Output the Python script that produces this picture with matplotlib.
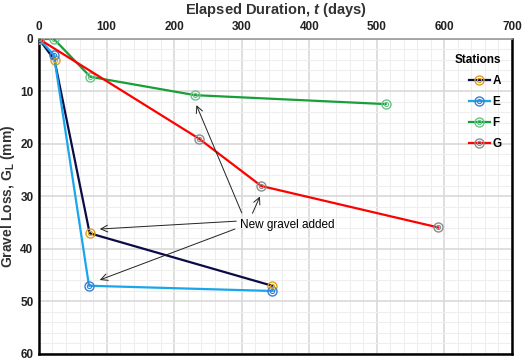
import numpy as np
import matplotlib
matplotlib.use("Agg")
import matplotlib.pyplot as plt
from matplotlib.ticker import MultipleLocator
from matplotlib.legend_handler import HandlerTuple

plt.rcParams['font.family'] = ['Liberation Sans', 'DejaVu Sans']
plt.rcParams['mathtext.fontset'] = 'custom'
plt.rcParams['mathtext.rm'] = 'Liberation Sans'
plt.rcParams['mathtext.bf'] = 'Liberation Sans:bold'
plt.rcParams['mathtext.it'] = 'Liberation Sans:italic'
plt.rcParams['mathtext.bfit'] = 'Liberation Sans:bold:italic'

# elapsed days / gravel loss (mm) per station
days_a = [0, 23, 75, 345]
loss_a = [0, 4.0, 37.0, 47.0]
days_e = [0, 22, 74, 345]
loss_e = [0, 3.0, 47.0, 48.0]
days_f = [0, 22, 76, 231, 513]
loss_f = [0, 0.0, 7.2, 10.7, 12.4]
days_g = [0, 237, 329, 591]
loss_g = [0, 19.0, 28.0, 35.9]

stations = ['A', 'E', 'F', 'G']
line_cols = ['#0b0b45', '#1aa6ea', '#1a9e38', '#ff0000']
mark_cols = ['#dba11c', '#3b7fd4', '#6cc48a', '#8c8c8c']

# arrow text position and targets (days, mm)
note_xy = (367, 35.4)
arrow_from = [(300, 33.1), (316, 33.2), (292, 34.7), (290, 36.2)]
arrow_to = [(233, 12.6), (327, 30.0), (90, 36.2), (90, 45.9)]

fig = plt.figure(figsize=(5.26, 3.6), dpi=100)
ax = fig.add_axes([0.0741, 0.0167, 0.8992, 0.875])

handles = []
series = [(days_a, loss_a), (days_e, loss_e), (days_f, loss_f), (days_g, loss_g)]
for (x, y), name, lc, mc in zip(series, stations, line_cols, mark_cols):
    l1, = ax.plot(x, y, color=lc, lw=1.6, marker='o', ms=6.5, mfc='none', mec=mc,
                  mew=1.0, zorder=3)
    l2, = ax.plot(x, y, ls='none', marker='o', ms=3, mfc='none', mec=mc, mew=0.8, zorder=4)
    handles.append((l1, l2))

for (x0, y0), (x1, y1) in zip(arrow_from, arrow_to):
    ax.annotate('', xy=(x1, y1), xytext=(x0, y0),
                arrowprops=dict(arrowstyle='->', color='#222222', lw=0.7,
                                mutation_scale=12, shrinkA=0, shrinkB=0), zorder=5)
ax.text(note_xy[0], note_xy[1], 'New gravel added', fontsize=8.5,
        ha='center', va='center', zorder=6)

ax.set_xlim(0, 700)
ax.set_ylim(60, 0)
ax.xaxis.set_major_locator(MultipleLocator(100))
ax.xaxis.set_minor_locator(MultipleLocator(20))
ax.yaxis.set_major_locator(MultipleLocator(10))
ax.yaxis.set_minor_locator(MultipleLocator(2))
ax.grid(which='major', color='#d9d9d9', lw=1.2)
ax.grid(which='minor', color='#eeeeee', lw=0.8)
ax.set_axisbelow(True)

ax.xaxis.tick_top()
ax.xaxis.set_label_position('top')
ax.tick_params(which='both', length=0, labelsize=8.5, pad=4)
for lab in ax.get_xticklabels() + ax.get_yticklabels():
    lab.set_fontweight('bold')
    lab.set_color('#222222')

for side in ['left', 'right', 'bottom']:
    ax.spines[side].set_color('black')
    ax.spines[side].set_linewidth(1.8)
ax.spines['top'].set_color('#999999')
ax.spines['top'].set_linewidth(1.2)

ax.set_xlabel('Elapsed Duration, $\\mathbfit{t}$ (days)', fontsize=10.5,
              fontweight='bold', color='#333333', labelpad=5)
ax.set_ylabel('Gravel Loss, $\\mathbf{G}_{\\mathbf{L}}$ (mm)', fontsize=10,
              fontweight='bold', color='#333333')
ax.yaxis.set_label_coords(-0.047, 0.5)

leg = ax.legend(handles, stations, title='Stations', loc='upper right', frameon=False,
                fontsize=8.5, title_fontproperties={'weight': 'bold', 'size': 8.5},
                handlelength=1.8, handletextpad=0.2, labelspacing=0.75,
                bbox_to_anchor=(1.0, 0.985), alignment='right',
                handler_map={tuple: HandlerTuple(ndivide=1)})
for t in leg.get_texts():
    t.set_fontweight('bold')

fig.savefig('out.png', dpi=100)
